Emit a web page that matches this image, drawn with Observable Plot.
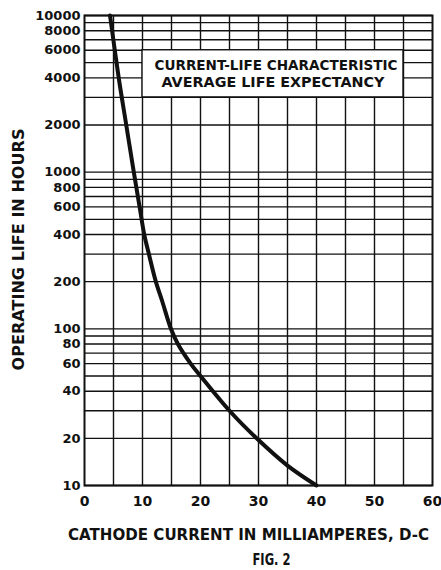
<!DOCTYPE html>
<html><head><meta charset="utf-8">
<script src="https://cdn.jsdelivr.net/npm/d3@7"></script>
<script src="https://cdn.jsdelivr.net/npm/@observablehq/plot@0.6"></script>
<style>body{margin:0;background:#fff}</style>
</head><body><div id="chart"></div>
<script>
// Curve: cathode current (mA) vs operating life (hours)
const current = [4.4, 5.9, 7.2, 8.5, 9.5, 10.3, 11.1, 12.3, 13.4, 14.9, 16.1, 18.3, 20, 25, 30, 35, 40];
const life    = [10000, 4000, 2000, 1000, 600, 400, 300, 200, 150, 100, 80, 60, 50, 30, 19.5, 13.4, 10];

const xTicks = [0, 10, 20, 30, 40, 50, 60];
const xGrid = [5, 10, 15, 20, 25, 30, 35, 40, 45, 50, 55];
const yTicks = [10, 20, 40, 60, 80, 100, 200, 400, 600, 800, 1000, 2000, 4000, 6000, 8000, 10000];
const yGrid = [10, 20, 30, 40, 50, 60, 70, 80, 90,
               100, 200, 300, 400, 500, 600, 700, 800, 900,
               1000, 2000, 3000, 4000, 5000, 6000, 7000, 8000, 9000, 10000];

const boxLines = ["CURRENT-LIFE CHARACTERISTIC", "AVERAGE LIFE EXPECTANCY"];
const boxX = [10, 55];
const boxY = [3000, 6000];
const xTitle = "CATHODE CURRENT IN MILLIAMPERES, D-C";
const yTitle = "OPERATING LIFE IN HOURS";
const figLabel = "FIG. 2";

const data = current.map((c, i) => ({current: c, life: life[i]}));
const box = [{x1: boxX[0], x2: boxX[1], y1: boxY[0], y2: boxY[1]}];
const boxMidX = (boxX[0] + boxX[1]) / 2;
const boxMidY = Math.sqrt(boxY[0] * boxY[1]);

const ink = "#111";

const chart = Plot.plot({
  width: 441,
  height: 570,
  marginLeft: 84,
  marginRight: 9,
  marginTop: 15,
  marginBottom: 85,
  style: {fontFamily: "DejaVu Sans", fontWeight: "bold", fontSize: "13px", color: ink, background: "#fff", overflow: "visible"},
  x: {domain: [0, 60]},
  y: {type: "log", domain: [10, 10000], axis: null},
  marks: [
    Plot.ruleY(yGrid, {stroke: ink, strokeWidth: 1.4}),
    Plot.ruleX(xGrid, {stroke: ink, strokeWidth: 1.4}),
    Plot.rect(box, {x1: "x1", x2: "x2", y1: "y1", y2: "y2", fill: "#fff", stroke: ink, strokeWidth: 1.4}),
    Plot.text([boxLines[0]], {x: boxMidX, y: boxMidY, dy: -8.5, dx: 3, text: d => d, fontSize: 14, fill: ink}),
    Plot.text([boxLines[1]], {x: boxMidX, y: boxMidY, dy: 9, text: d => d, fontSize: 14, fill: ink}),
    Plot.line(data, {x: "current", y: "life", curve: "catmull-rom", stroke: ink, strokeWidth: 4}),
    Plot.frame({stroke: ink, strokeWidth: 2}),
    Plot.axisX(xTicks, {tickSize: 0, tickPadding: 11, fontSize: 14, label: null}),
    Plot.text(yTicks, {y: d => d, frameAnchor: "left", textAnchor: "end", dx: -4, text: d => String(d), fontSize: 13, fill: ink}),
    Plot.text([xTitle], {frameAnchor: "bottom", textAnchor: "middle", lineAnchor: "middle", dx: -10, dy: 50, text: d => d, fontSize: 15, fill: ink}),
    Plot.text([figLabel], {frameAnchor: "bottom", textAnchor: "middle", lineAnchor: "middle", dx: 13, dy: 74, text: d => d, fontSize: 16, fill: ink}),
    Plot.text([yTitle], {frameAnchor: "left", textAnchor: "middle", lineAnchor: "middle", dx: -66, dy: -1, rotate: -90, text: d => d, fontSize: 16, fill: ink})
  ]
});

const lengths = {};
lengths[boxLines[0]] = 243;
lengths[boxLines[1]] = 223;
lengths[xTitle] = 361;
lengths[yTitle] = 242;
lengths[figLabel] = 38;
d3.select(chart).selectAll("text").each(function() {
  const L = lengths[this.textContent];
  if (L) { this.setAttribute("textLength", L); this.setAttribute("lengthAdjust", "spacingAndGlyphs"); }
});

document.getElementById("chart").appendChild(chart);
</script>
</body></html>
